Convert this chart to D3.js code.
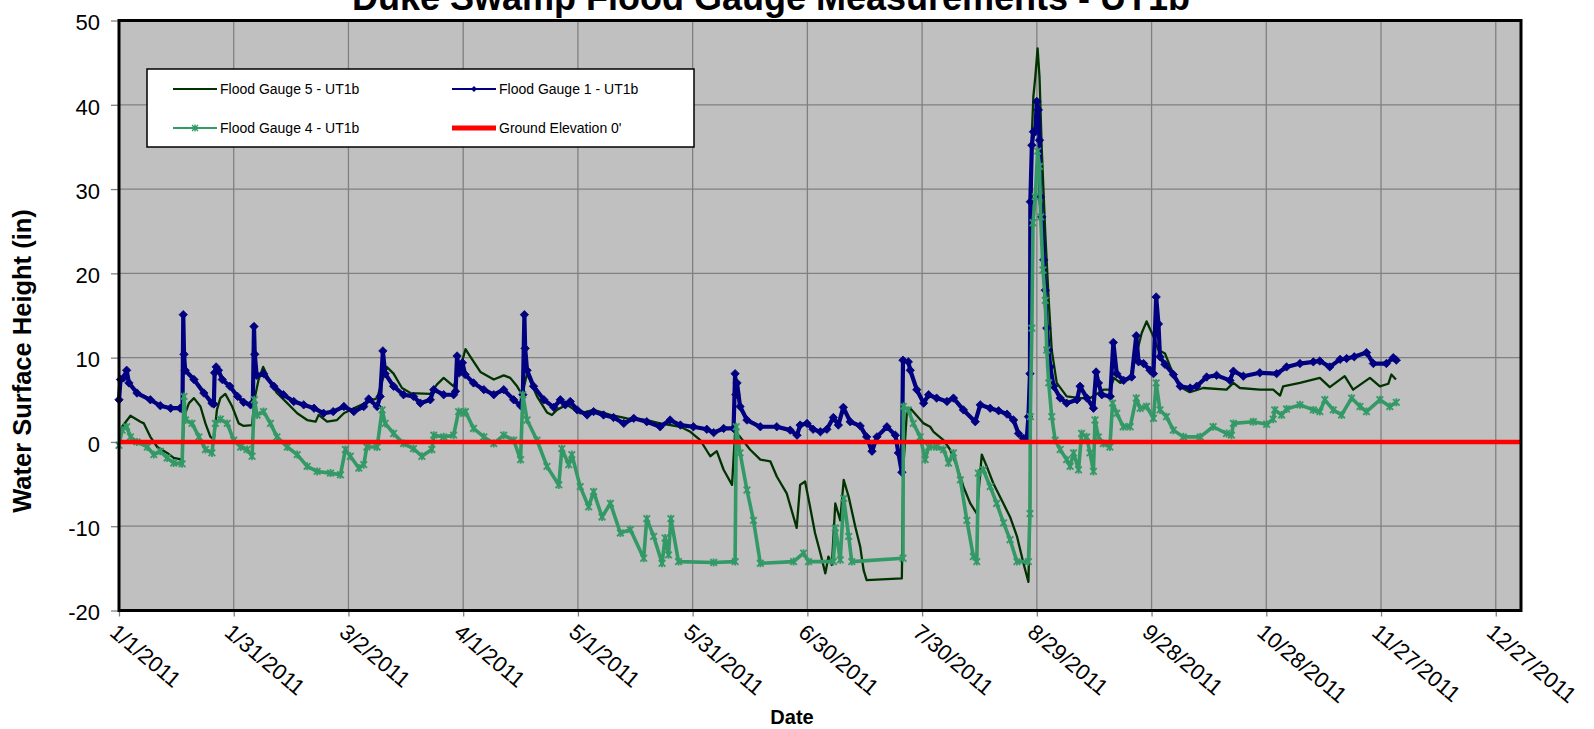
<!DOCTYPE html>
<html><head><meta charset="utf-8">
<script src="https://cdn.jsdelivr.net/npm/d3@7"></script>
<style>
body{margin:0;background:#fff}
svg{display:block}
text{font-family:Arial,"Liberation Sans",Helvetica,sans-serif}
</style>
</head><body>
<svg id="chart" width="1594" height="729"></svg>
<script>
// ---------------- DATA ----------------
const chartTitle = "Duke Swamp Flood Gauge Measurements - UT1b";
const xTitle = "Date";
const yTitle = "Water Surface Height (in)";
const startDateLabel = "1/1/2011";
const endDayOffset = 366.6; // axis maximum, in days after 1/1/2011
const xTickLabels = ["1/1/2011","1/31/2011","3/2/2011","4/1/2011","5/1/2011","5/31/2011","6/30/2011","7/30/2011","8/29/2011","9/28/2011","10/28/2011","11/27/2011","12/27/2011"];
const yTicks = [-20,-10,0,10,20,30,40,50];
const seriesNames = ["Flood Gauge 5 - UT1b","Flood Gauge 1 - UT1b","Flood Gauge 4 - UT1b","Ground Elevation 0'"];

// day offsets since 1/1/2011 and water surface height (in)
const g5Days = [0,0.8,3,5.6,6.5,8.2,10,12.6,14.3,16.5,17,18.3,19.6,21.3,22.6,23.9,24.8,25.6,26.5,27.8,29.6,31.3,32.6,34.8,35.4,36.5,37.7,39.2,41.3,44,46.6,49.2,51.4,52.2,54.4,57,58.8,61.4,64.8,67.5,69.2,70,71.8,74,76.2,81.4,83.1,84.9,87.5,89.2,90.6,91.9,94.5,98,100.6,102.3,104.1,105.4,106.7,109.3,111.9,113.2,114.5,117.1,120.6,124.1,128.5,132.8,138,141.5,146.8,149.4,152,154.6,156.3,158.1,160.3,161.1,162.4,165,167.7,170.3,172,174.6,177.2,178.1,179.4,180.7,182,183.4,184.7,185.5,186.4,187.3,188.6,189.5,190.8,192.5,193.8,194.7,195.5,204.7,205.1,206,206.9,210.4,212.1,213,215.6,217.3,219.1,220.8,222.6,224.3,225.6,226.9,228.6,230.8,233,234.8,236.5,237.8,238.2,238.5,238.7,239.1,239.6,240.2,240.7,241.3,242.2,243.1,243.9,245.2,247.8,251.3,253.9,257.4,259.1,260.2,261.8,264.4,266.1,267.4,268.7,270.5,271.8,273.5,274.9,276.6,278,280,283.5,289.6,291.4,293.1,298.3,301.8,303.6,304.4,308.8,314,316.6,320.5,322.7,327.1,329.7,331.9,332.7,333.9];
const g5Vals = [0.2,1.8,3.1,2.4,2.2,0.6,-0.6,-1.3,-1.9,-2.1,3.0,4.6,5.2,4.2,2.2,0.6,0.3,3.8,5.2,5.7,4.2,2.2,1.9,2.0,5.0,7.4,8.9,7.4,5.8,4.6,3.4,2.6,2.4,3.2,2.4,2.6,3.4,4.0,4.7,5.2,7.8,8.9,8.1,6.4,5.8,5.7,6.8,7.6,6.6,8.7,11.0,10.1,8.3,7.4,7.9,7.6,6.6,5.6,8.1,5.4,3.5,3.2,3.8,4.4,3.4,3.8,3.2,2.8,2.6,2.2,1.8,1.2,0.2,-1.7,-1.1,-3.3,-5.1,1.2,0.6,-0.9,-2.1,-2.3,-4.1,-6.1,-10.2,-5.1,-4.7,-7.7,-10.8,-13.2,-15.6,-13.6,-14.6,-7.3,-9.3,-4.5,-6.5,-10.0,-12.4,-15.2,-16.4,-16.2,-2.9,3.4,4.0,2.2,1.8,1.2,0.2,-0.9,-2.9,-5.3,-7.3,-8.5,-1.5,-2.9,-4.9,-6.9,-8.9,-11.2,-14.4,-16.6,-8.5,20.0,36.6,41.0,43.3,46.7,43.3,34.6,24.8,16.8,10.9,7.0,5.4,5.2,5.2,6.2,6.2,7.6,7.0,7.6,10.5,12.9,14.3,12.5,10.9,10.5,8.9,7.3,6.4,5.9,6.4,6.2,7.0,6.4,6.2,6.2,5.5,6.6,7.0,7.6,6.5,7.8,6.2,7.6,6.6,6.9,8.0,7.4];

const g1Days = [0,0.4,1.2,2,2.6,4.7,8.2,10.8,13.5,16,16.6,16.8,17,17.3,19.6,22.2,24.3,24.8,25,25.4,26,27,29,31,32.6,34.4,35,35.3,35.5,36,37.8,40.5,43,45.7,48.3,51,53.5,56,58.8,61.4,64,65.3,67.5,68.3,69,69.6,71.8,74.4,77,78.8,81.4,82.3,84.9,87.5,88,88.4,89,89.8,90.5,92.7,95.4,98,100.6,103.2,105,105.6,106,106.2,106.7,108.4,111.1,113.7,115.4,116.7,118,119.8,122.4,124.1,126.7,129.3,132,134.6,138,141.5,144.1,146.8,150.2,153.7,155.5,158.1,160.7,161.1,161.3,161.6,162.4,164.2,167.7,172,175.5,177.3,178.1,179.9,181.5,183.4,185.1,186.8,188.1,189.4,191.2,193.8,195.5,196.9,198.2,200.8,203,203.8,204.7,205,206.4,206.9,208.6,210.4,211.7,213.8,216.5,218.2,220.8,223.9,225.2,227.8,230,232.2,233.9,235.2,236.5,237.4,237.8,238.2,238.3,238.7,239.1,239.6,240,240.4,240.7,240.9,241.3,241.8,242.2,242.6,243.1,243.5,244.4,246.1,247.8,250.5,251.3,253.1,254.8,255.5,256.1,257,259.2,260,260.9,262.7,264.8,266,266.6,267.9,269.6,270.5,271.2,271.8,272.2,273.5,275.7,277.5,280.1,281.8,284.4,287,290.5,291.4,294,298.3,302.7,305.3,308.8,312.3,314,316.6,319.3,321,323,326.2,328,331.4,333.2,334];
const g1Vals = [5.0,7.4,7.6,8.5,7.0,5.8,5.0,4.3,4.0,4.0,3.9,15.1,10.4,8.5,7.4,5.8,4.6,4.5,8.2,8.9,8.5,7.4,6.6,5.4,4.7,4.4,4.6,13.7,10.4,7.9,8.1,6.6,5.6,4.8,4.4,4.0,3.4,3.6,4.2,3.6,4.2,5.1,4.2,5.4,10.8,8.1,6.6,5.6,5.4,4.6,5.0,6.2,5.6,5.6,6.0,10.2,8.2,9.4,8.0,7.0,6.2,5.6,6.2,5.0,4.3,5.6,15.1,11.1,8.5,6.6,5.0,4.1,5.0,4.4,4.8,3.8,3.2,3.6,3.2,2.9,2.2,2.8,2.4,1.8,2.6,2.0,1.8,1.5,1.1,1.6,1.6,8.1,5.6,7.0,4.2,2.6,1.8,1.8,1.4,0.8,2.0,2.2,1.5,1.2,1.5,2.9,2.0,4.1,2.4,1.9,0.6,-1.1,0.6,1.8,0.8,-1.3,-3.6,9.7,9.5,8.5,6.2,4.6,5.6,5.2,4.8,5.2,3.8,2.4,4.4,4.0,3.7,3.3,2.6,1.0,0.4,0.6,3.0,8.1,28.5,35.2,36.8,36.8,40.4,39.4,35.8,29.1,26.7,21.6,18.0,13.5,10.9,8.9,6.6,5.2,4.6,5.0,6.6,5.2,4.0,8.3,7.0,5.6,5.4,11.8,8.1,7.3,7.7,12.6,9.5,9.3,8.5,8.1,17.2,14.0,10.1,9.2,8.0,6.6,6.4,6.6,7.7,7.9,7.3,8.4,7.8,8.2,8.1,8.9,9.3,9.5,9.6,8.9,9.8,9.9,10.1,10.6,9.3,9.3,10.0,9.7];

const g4Days = [0,0.8,2,3,4.7,7.4,9.1,10.8,12.6,14.3,16.5,17,17.4,19.1,20.9,22.6,24.3,25.2,26.5,28.3,30,31.8,33.5,34.8,35.4,36.1,37.8,39.6,41.3,44,46.6,49.2,51.8,55.3,57.9,59.2,60.5,62.7,64,64.8,67.5,68.8,69.6,71.8,74.4,77,79.2,81.8,82.3,84.9,87.5,88.8,90.1,90.6,92.7,95.4,98,100.6,103.2,105,105.6,106.7,109.3,111.9,115,115.8,117.6,118.4,120.6,122.8,124.1,126.3,128.5,131.1,133.7,137.2,138,139.8,142,142.8,143.7,144.3,146.3,155.5,161.1,161.4,162.4,164.2,165.9,167.7,176.4,179,180.3,186.8,187.3,188.6,189.5,190.8,191.6,205,205.1,206.4,207.7,209.5,210.8,211.7,213.8,215.6,216.9,218.2,220,221.7,223.4,224.3,224.7,226,227.8,229.5,231.3,233,234.8,237.8,238.2,238.3,238.7,239,239.6,240.2,240.7,241,241.6,242.2,242.6,243.1,243.9,244.8,246.1,247.8,248.7,249.6,250.9,251.7,253,253.9,254.8,255.2,256.1,257.4,259.1,259.8,260.9,262.6,264.4,266,267,268.7,270.5,271.2,272.2,273.9,275.7,278.3,282.7,286.1,289.6,290.9,291.4,296.6,300.1,301.8,302.2,304,305.3,308.8,312.3,314,315.3,317.5,319.7,322.3,324.5,326.2,329.7,332.3,334];
const g4Vals = [-0.4,1.4,1.8,0.6,0.0,-0.6,-1.5,-1.1,-1.9,-2.5,-2.6,5.4,2.6,2.2,0.6,-0.9,-1.3,2.2,2.7,2.2,0.2,-0.6,-0.9,-1.7,5.0,3.2,3.6,2.2,0.6,-0.6,-1.5,-2.9,-3.5,-3.7,-3.9,-0.9,-1.7,-3.1,-2.7,-0.6,-0.6,3.8,2.2,1.0,-0.2,-0.8,-1.7,-0.9,0.8,0.6,0.8,3.6,3.4,3.6,1.6,0.6,-0.2,0.8,0.2,-2.1,5.6,2.6,0.2,-2.9,-5.1,-0.8,-2.7,-1.5,-5.3,-7.7,-5.9,-8.9,-7.3,-10.8,-10.4,-13.8,-9.1,-11.2,-14.4,-11.4,-13.4,-9.1,-14.2,-14.3,-14.2,1.8,-1.3,-5.7,-9.3,-14.4,-14.2,-13.2,-14.2,-14.2,-10.2,-14.0,-6.7,-11.2,-14.2,-13.8,4.2,3.8,2.2,0.6,-2.1,-0.6,-0.6,-0.9,-2.5,-1.3,-4.5,-9.3,-13.6,-14.2,-3.7,-3.3,-5.3,-7.3,-9.6,-11.6,-14.2,-14.2,-8.5,3.0,13.5,26.0,29.1,34.5,32.7,26.7,20.4,16.8,10.9,7.0,3.0,0.2,-0.9,-2.1,-2.9,-1.3,-3.3,1.0,0.6,-1.3,-3.5,2.6,0.6,-0.2,-0.6,4.6,3.4,1.8,1.8,5.2,4.0,4.2,2.8,7.0,3.8,3.0,1.4,0.6,0.6,1.8,1.0,0.8,2.2,2.4,2.1,2.7,3.8,3.2,3.9,4.4,3.8,3.6,5.0,3.8,3.2,5.2,4.2,3.6,5.0,4.2,4.7];

const groundDays = [0, 366.6];
const groundVals = [0, 0];

// ---------------- LAYOUT ----------------
const W = 1594, H = 729;
const P = {left:119, right:1521, top:20.5, bottom:610.5};

const svg = d3.select("#chart");
svg.append("rect").attr("width",W).attr("height",H).attr("fill","#fff");

const parse = d3.timeParse("%m/%d/%Y");
const start = parse(startDateLabel);
const tickDays = xTickLabels.map(s => d3.timeDay.count(start, parse(s)));

const x = d3.scaleLinear().domain([0, endDayOffset]).range([P.left, P.right]);
const y = d3.scaleLinear().domain([-20, 50]).range([P.bottom, P.top]);

// plot background
svg.append("rect").attr("x",P.left).attr("y",P.top)
  .attr("width",P.right-P.left).attr("height",P.bottom-P.top).attr("fill","#c0c0c0");

// gridlines
const grid = svg.append("g");
grid.selectAll("line.h").data(yTicks).join("line").attr("class","h")
  .attr("x1",P.left).attr("x2",P.right).attr("y1",d=>y(d)).attr("y2",d=>y(d))
  .attr("stroke","#808080").attr("stroke-width",1.3);
grid.selectAll("line.v").data(tickDays).join("line").attr("class","v")
  .attr("y1",P.top).attr("y2",P.bottom).attr("x1",d=>x(d)).attr("x2",d=>x(d))
  .attr("stroke","#808080").attr("stroke-width",1.3);

// axes (ticks + labels)
const yAxis = d3.axisLeft(y).tickValues(yTicks).tickSize(8).tickPadding(11).tickFormat(d=>String(d));
const yg = svg.append("g").attr("transform",`translate(${P.left},0)`).call(yAxis);
yg.select(".domain").remove();
yg.selectAll(".tick line").attr("stroke","#808080").attr("stroke-width",1.3);
yg.selectAll(".tick text").attr("font-size",22).attr("fill","#000")
  .attr("font-family","Arial, 'Liberation Sans', sans-serif").attr("dy","0.42em");

const xAxis = d3.axisBottom(x).tickValues(tickDays).tickSize(6).tickFormat((d,i)=>xTickLabels[i]);
const xg = svg.append("g").attr("transform",`translate(0,${P.bottom})`).call(xAxis);
xg.select(".domain").remove();
xg.selectAll(".tick line").attr("stroke","#808080").attr("stroke-width",1.3);
xg.selectAll(".tick text").attr("font-size",22).attr("fill","#000")
  .attr("font-family","Arial, 'Liberation Sans', sans-serif")
  .attr("text-anchor","start").attr("dy",null).attr("y",null)
  .attr("transform","translate(-11,24) rotate(40)");

// series
const colors = {g5:"#003300", g1:"#000080", g4:"#339966", ground:"#ff0000"};
const line = d3.line().x(d=>x(d[0])).y(d=>y(d[1]));
const zip = (a,b) => a.map((d,i)=>[d,b[i]]);
const g5 = zip(g5Days,g5Vals), g1 = zip(g1Days,g1Vals), g4 = zip(g4Days,g4Vals), gr = zip(groundDays,groundVals);

const plot = svg.append("g");
plot.append("path").attr("d",line(g5)).attr("fill","none").attr("stroke",colors.g5).attr("stroke-width",2.3).attr("stroke-linejoin","round");

plot.append("path").attr("d",line(g1)).attr("fill","none").attr("stroke",colors.g1).attr("stroke-width",4.2).attr("stroke-linejoin","round");
const diamond = "M0,-4.2L4.2,0L0,4.2L-4.2,0Z";
plot.selectAll("path.m1").data(g1).join("path").attr("class","m1")
  .attr("d",diamond).attr("transform",d=>`translate(${x(d[0])},${y(d[1])})`)
  .attr("fill",colors.g1).attr("stroke",colors.g1).attr("stroke-width",0.8);

plot.append("path").attr("d",line(g4)).attr("fill","none").attr("stroke",colors.g4).attr("stroke-width",3.6).attr("stroke-linejoin","round");
const star = "M-3.3,-3.3L3.3,3.3M-3.3,3.3L3.3,-3.3M0,-4L0,4";
plot.selectAll("path.m4").data(g4).join("path").attr("class","m4")
  .attr("d",star).attr("transform",d=>`translate(${x(d[0])},${y(d[1])})`)
  .attr("fill","none").attr("stroke",colors.g4).attr("stroke-width",1.8);

plot.append("path").attr("d",line(gr)).attr("fill","none").attr("stroke",colors.ground).attr("stroke-width",4.5);

// plot border
svg.append("rect").attr("x",P.left).attr("y",P.top)
  .attr("width",P.right-P.left).attr("height",P.bottom-P.top)
  .attr("fill","none").attr("stroke","#000").attr("stroke-width",3);

// titles
svg.append("text").attr("x",771).attr("y",10).attr("text-anchor","middle")
  .attr("font-size",36).attr("font-weight","bold").text(chartTitle);
svg.append("text").attr("x",792).attr("y",724).attr("text-anchor","middle")
  .attr("font-size",20).attr("font-weight","bold").text(xTitle);
svg.append("text").attr("transform","translate(31,361) rotate(-90)").attr("text-anchor","middle")
  .attr("font-size",25.5).attr("font-weight","bold").text(yTitle);

// legend
const lg = svg.append("g");
lg.append("rect").attr("x",147).attr("y",69).attr("width",547).attr("height",78)
  .attr("fill","#fff").attr("stroke","#000").attr("stroke-width",1.5);
const items = [
  {name:seriesNames[0], c:colors.g5, w:2.2, m:null, lx:173, ly:89},
  {name:seriesNames[1], c:colors.g1, w:2.2, m:"d", lx:452, ly:89},
  {name:seriesNames[2], c:colors.g4, w:2.2, m:"s", lx:173, ly:128},
  {name:seriesNames[3], c:colors.ground, w:5, m:null, lx:452, ly:128}
];
items.forEach(it=>{
  lg.append("line").attr("x1",it.lx).attr("x2",it.lx+44).attr("y1",it.ly).attr("y2",it.ly)
    .attr("stroke",it.c).attr("stroke-width",it.w);
  if(it.m==="d") lg.append("path").attr("d","M0,-3L3,0L0,3L-3,0Z").attr("transform",`translate(${it.lx+22},${it.ly})`).attr("fill",it.c);
  if(it.m==="s") lg.append("path").attr("d","M-3,-3L3,3M-3,3L3,-3M0,-3.5L0,3.5").attr("transform",`translate(${it.lx+22},${it.ly})`).attr("stroke",it.c).attr("stroke-width",1.4);
  lg.append("text").attr("x",it.lx+47).attr("y",it.ly).attr("dy","0.36em")
    .attr("font-size",14).text(it.name);
});
</script>
</body></html>
